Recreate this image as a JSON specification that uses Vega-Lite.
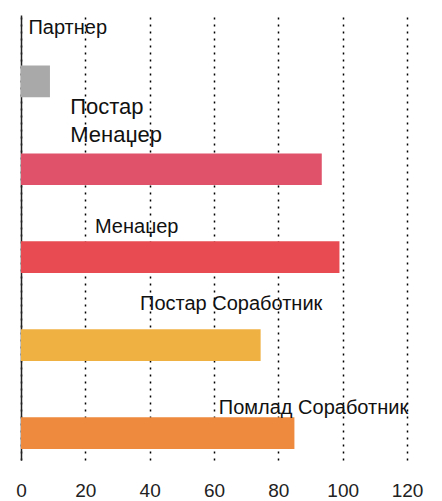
{
  "$schema": "https://vega.github.io/schema/vega-lite/v6.json",
  "autosize": {"type": "none"},
  "padding": {"left": 21, "top": 15, "right": 35, "bottom": 41},
  "width": 386,
  "height": 445,
  "background": "white",
  "config": {"view": {"stroke": null}, "font": "Liberation Sans"},
  "data": {"values": [
    {"category": "Партнер", "value": 9},
    {"category": "Постар Менаџер", "value": 93.5},
    {"category": "Менаџер", "value": 99},
    {"category": "Постар Соработник", "value": 74.5},
    {"category": "Помлад Соработник", "value": 85}
  ]},
  "encoding": {
    "y": {"field": "category", "type": "nominal",
      "scale": {"domain": ["Партнер", "Постар Менаџер", "Менаџер", "Постар Соработник", "Помлад Соработник"], "paddingInner": 0.64, "paddingOuter": 0.35, "align": 0.82},
      "axis": {"labels": false, "ticks": false, "domain": true, "domainColor": "#222", "domainWidth": 1.5, "title": null}}
  },
  "layer": [
    {
      "mark": {"type": "bar"},
      "encoding": {
        "x": {"field": "value", "type": "quantitative",
          "scale": {"domain": [0, 120], "nice": false},
          "axis": {"values": [0, 20, 40, 60, 80, 100, 120], "grid": true, "gridDash": [2, 5], "gridColor": "#000", "gridWidth": 1.5, "domain": false, "ticks": false, "labelFlush": false, "labelFontSize": 19, "labelColor": "#222", "labelPadding": 21, "labelFont": "Liberation Sans", "title": null}},
        "color": {"field": "category", "type": "nominal", "legend": null,
          "scale": {"domain": ["Партнер", "Постар Менаџер", "Менаџер", "Постар Соработник", "Помлад Соработник"], "range": ["#a9a9a9", "#e0516a", "#e84c52", "#f0b143", "#ee8a3d"]}}
      }
    },
    {
      "transform": [{"filter": "datum.category == 'Партнер'"}],
      "mark": {"type": "text", "align": "left", "baseline": "middle", "fontSize": 20, "color": "#111", "dy": -53},
      "encoding": {"x": {"datum": 2.3}, "text": {"field": "category"}}
    },
    {
      "transform": [{"filter": "datum.category == 'Постар Менаџер'"}],
      "mark": {"type": "text", "align": "left", "baseline": "middle", "fontSize": 22, "color": "#111", "dy": -62, "lineHeight": 28, "text": ["Постар", "Менаџер"]},
      "encoding": {"x": {"datum": 15.3}}
    },
    {
      "transform": [{"filter": "datum.category == 'Менаџер'"}],
      "mark": {"type": "text", "align": "left", "baseline": "middle", "fontSize": 20, "color": "#111", "dy": -30},
      "encoding": {"x": {"datum": 23}, "text": {"field": "category"}}
    },
    {
      "transform": [{"filter": "datum.category == 'Постар Соработник'"}],
      "mark": {"type": "text", "align": "left", "baseline": "middle", "fontSize": 20, "color": "#111", "dy": -41},
      "encoding": {"x": {"datum": 37}, "text": {"field": "category"}}
    },
    {
      "transform": [{"filter": "datum.category == 'Помлад Соработник'"}],
      "mark": {"type": "text", "align": "left", "baseline": "middle", "fontSize": 20, "color": "#111", "dy": -25},
      "encoding": {"x": {"datum": 61.5}, "text": {"field": "category"}}
    }
  ]
}
